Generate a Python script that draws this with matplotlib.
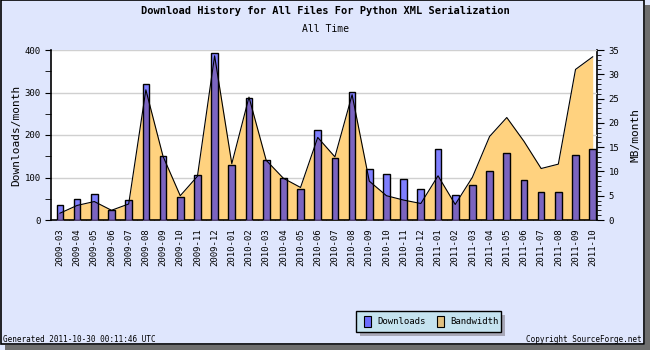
import matplotlib
matplotlib.use('Agg')
import matplotlib.pyplot as plt
from matplotlib.patches import Rectangle
import numpy as np

# Monthly data
months = ['2009-03', '2009-04', '2009-05', '2009-06', '2009-07', '2009-08', '2009-09',
          '2009-10', '2009-11', '2009-12', '2010-01', '2010-02', '2010-03', '2010-04',
          '2010-05', '2010-06', '2010-07', '2010-08', '2010-09', '2010-10', '2010-11',
          '2010-12', '2011-01', '2011-02', '2011-03', '2011-04', '2011-05', '2011-06',
          '2011-07', '2011-08', '2011-09', '2011-10']
downloads = [35, 49, 61, 23, 47, 320, 151, 55, 106, 393, 129, 287, 141, 99, 73, 212,
             146, 301, 120, 108, 96, 73, 167, 59, 82, 115, 158, 94, 66, 66, 153, 167]
bandwidth = [1.4, 3.0, 3.8, 2.0, 3.3, 26.8, 13.1, 5.0, 9.0, 33.8, 11.6, 25.3, 12.3, 8.6,
             6.7, 17.0, 13.0, 25.8, 8.0, 5.0, 4.1, 3.4, 9.1, 3.2, 8.8, 17.2, 21.1, 16.2,
             10.6, 11.5, 31.0, 33.6]

bg = '#dfe6fd'
blue = '#7f7fff'
purple = '#7b64c0'
orange = '#ffd27f'
mono = 'DejaVu Sans Mono'
bar_w = 0.39

fig = plt.figure(figsize=(6.5, 3.5), dpi=100, facecolor=bg)

# outer frame with shadow
fig.patches.append(Rectangle((645 / 650, 0), 5 / 650, 345 / 350, transform=fig.transFigure,
                             facecolor='#6e6e6e', edgecolor='none', zorder=0))
fig.patches.append(Rectangle((5 / 650, 0), 645 / 650, 5 / 350, transform=fig.transFigure,
                             facecolor='#6e6e6e', edgecolor='none', zorder=0))
fig.patches.append(Rectangle((0.5 / 650, 6 / 350), 643.5 / 650, 344 / 350, transform=fig.transFigure,
                             facecolor='none', edgecolor='black', lw=1.2, zorder=1))

ax = fig.add_axes([51 / 650, 130 / 350, 546 / 650, 170 / 350])
x = np.arange(len(months))

ax2 = ax.twinx()
ax.set_zorder(ax2.get_zorder() + 1)
ax.patch.set_visible(False)
ax2.patch.set_visible(True)
ax2.patch.set_facecolor('white')

# bandwidth area (MB) rescaled to the downloads axis
scale = 400 / 35
bw = np.array(bandwidth) * scale
ax.fill_between(x, 0, bw, color=orange, linewidth=0, zorder=1)

ax.bar(x, downloads, width=bar_w, color=blue, edgecolor='none', zorder=2)
# part of each bar lying inside the bandwidth area is shown purple
for xi, d in zip(x, downloads):
    xs = np.linspace(xi - bar_w / 2, xi + bar_w / 2, 30)
    top = np.minimum(d, np.interp(xs, x, bw))
    ax.fill_between(xs, 0, top, color=purple, linewidth=0, zorder=3)
ax.plot(x, bw, color='black', lw=0.8, zorder=4)
ax.bar(x, downloads, width=bar_w, color='none', edgecolor='black', linewidth=1.0, zorder=5)

ax.set_xlim(-0.52, 31.25)
ax.set_ylim(0, 400)
ax2.set_ylim(0, 35)

ax.set_yticks([0, 100, 200, 300, 400])
ax.set_yticks([50, 150, 250, 350], minor=True)
ax2.set_yticks(range(0, 36, 5))
ax2.set_yticks(range(0, 36, 1), minor=True)
ax.grid(axis='y', color='#d0d0d0', lw=1, zorder=0)
ax.set_axisbelow(True)

ax.set_xticks(x)
ax.set_xticks(x[:-1] + 0.5, minor=True)
ax.set_xticklabels(months, rotation=90, fontsize=6.5, family=mono)
ax.tick_params(axis='x', which='major', length=0, pad=6)
ax.tick_params(axis='x', which='minor', length=3, direction='in', width=0.8)
ax.tick_params(axis='y', which='both', labelsize=6.5, length=4, direction='out')
ax2.tick_params(axis='y', which='major', labelsize=6.5, length=5, direction='out')
ax2.tick_params(axis='y', which='minor', length=3, direction='out')
for lab in ax.get_yticklabels() + ax2.get_yticklabels():
    lab.set_family(mono)

for a in (ax, ax2):
    for s in a.spines.values():
        s.set_visible(False)
ax.spines['left'].set_visible(True)
ax.spines['bottom'].set_visible(True)
ax2.spines['right'].set_visible(True)
ax.spines['left'].set_linewidth(1.2)
ax.spines['bottom'].set_linewidth(1.2)
ax2.spines['right'].set_linewidth(1.2)

ax.set_ylabel('Downloads/month', fontsize=8, family=mono, labelpad=2)
ax2.set_ylabel('MB/month', fontsize=8, family=mono, labelpad=8)

fig.text(0.5, 1 - 11 / 350, 'Download History for All Files For Python XML Serialization',
         ha='center', va='center', fontsize=7.5, weight='bold', family=mono)
fig.text(0.5, 1 - 29 / 350, 'All Time', ha='center', va='center', fontsize=7, family=mono)

fig.text(3 / 650, 1 - 339 / 350, 'Generated 2011-10-30 00:11:46 UTC', ha='left', va='center',
         fontsize=5.5, family=mono)
fig.text(642 / 650, 1 - 339 / 350, 'Copyright SourceForge.net', ha='right', va='center',
         fontsize=5.5, family=mono)

# legend box
fig.patches.append(Rectangle((360 / 650, 1 - 336 / 350), 145 / 650, 21 / 350, transform=fig.transFigure,
                             facecolor='#a8a8b8', edgecolor='none', zorder=2))
fig.patches.append(Rectangle((356 / 650, 1 - 332 / 350), 145 / 650, 21 / 350, transform=fig.transFigure,
                             facecolor='#c5e3f0', edgecolor='black', lw=1, zorder=3))
fig.patches.append(Rectangle((364 / 650, 1 - 327 / 350), 7 / 650, 11 / 350, transform=fig.transFigure,
                             facecolor='#6c6cff', edgecolor='black', lw=0.8, zorder=4))
fig.patches.append(Rectangle((437 / 650, 1 - 327 / 350), 7 / 650, 11 / 350, transform=fig.transFigure,
                             facecolor='#e0c080', edgecolor='black', lw=0.8, zorder=4))
fig.text(377 / 650, 1 - 322 / 350, 'Downloads', ha='left', va='center', fontsize=6.5, family=mono, zorder=5)
fig.text(450 / 650, 1 - 322 / 350, 'Bandwidth', ha='left', va='center', fontsize=6.5, family=mono, zorder=5)

plt.savefig('out.png', dpi=100, facecolor=bg)
